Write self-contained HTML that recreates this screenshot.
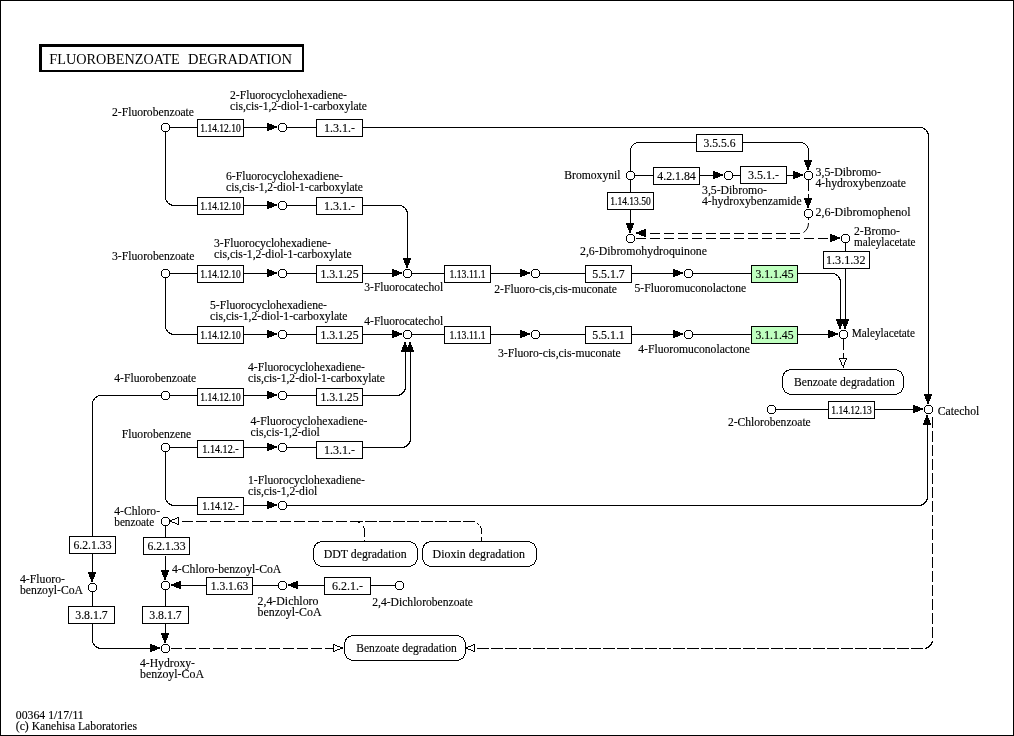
<!DOCTYPE html>
<html lang="en">
<head>
<meta charset="utf-8">
<title>Fluorobenzoate degradation</title>
<style>
html,body{margin:0;padding:0;background:#fff;}
svg{display:block;will-change:transform;}
svg text{font-family:"Liberation Serif",serif;font-size:13px;fill:#000;stroke:#000;stroke-width:0.15px;}
svg line, svg rect, svg path{stroke:#000;stroke-width:1;shape-rendering:crispEdges;}
svg .c{fill:#fff;stroke:#000;stroke-width:1;shape-rendering:crispEdges;}
svg .aa{shape-rendering:auto;}
svg rect.k{fill:#000;stroke:none;}
svg rect.w{fill:#fff;stroke:none;}
</style>
</head>
<body>
<svg width="1014" height="736" viewBox="0 0 1014 736">
<rect x="0.5" y="0.5" width="1013" height="735" fill="#fff"/>
<rect x="39" y="44" width="265" height="28" style="fill:#000;stroke:none"/>
<rect x="42" y="47" width="260" height="23" style="fill:#fff;stroke:none"/>
<text x="49.3" y="64" style="font-size:15px;stroke-width:0" textLength="130.5" lengthAdjust="spacingAndGlyphs">FLUOROBENZOATE</text>
<text x="188" y="64" style="font-size:15px;stroke-width:0" textLength="104" lengthAdjust="spacingAndGlyphs">DEGRADATION</text>
<line x1="170" y1="127.5" x2="197.5" y2="127.5"/>
<line x1="243.5" y1="127.5" x2="268" y2="127.5"/>
<line x1="287" y1="127.5" x2="316.5" y2="127.5"/>
<path d="M362.5 127.5 L921.5 127.5 Q926.75 129.25 928.5 134.5 V395" fill="none"/>
<path d="M165.5 132 L165.5 198.5 Q167.25 203.75 172.5 205.5 H197.5" fill="none"/>
<line x1="243.5" y1="205.5" x2="268" y2="205.5"/>
<line x1="287" y1="205.5" x2="316.5" y2="205.5"/>
<path d="M362.5 205.5 L400.5 205.5 Q405.75 207.25 407.5 212.5 V259" fill="none"/>
<line x1="170" y1="273.5" x2="197.5" y2="273.5"/>
<line x1="243.5" y1="273.5" x2="268" y2="273.5"/>
<line x1="287" y1="273.5" x2="316.5" y2="273.5"/>
<line x1="362.5" y1="273.5" x2="393" y2="273.5"/>
<line x1="412" y1="273.5" x2="444.5" y2="273.5"/>
<line x1="490.5" y1="273.5" x2="521" y2="273.5"/>
<line x1="540" y1="273.5" x2="585.5" y2="273.5"/>
<line x1="631.5" y1="273.5" x2="674" y2="273.5"/>
<line x1="693" y1="273.5" x2="751.5" y2="273.5"/>
<path d="M797.5 273.5 L833.5 273.5 Q838.75 275.25 840.5 280.5 V320" fill="none"/>
<path d="M165.5 278 L165.5 327.5 Q167.25 332.75 172.5 334.5 H197.5" fill="none"/>
<line x1="243.5" y1="334.5" x2="268" y2="334.5"/>
<line x1="287" y1="334.5" x2="316.5" y2="334.5"/>
<line x1="362.5" y1="334.5" x2="393" y2="334.5"/>
<line x1="412" y1="334.5" x2="444.5" y2="334.5"/>
<line x1="490.5" y1="334.5" x2="521" y2="334.5"/>
<line x1="540" y1="334.5" x2="585.5" y2="334.5"/>
<line x1="631.5" y1="334.5" x2="674" y2="334.5"/>
<line x1="693" y1="334.5" x2="751.5" y2="334.5"/>
<line x1="797.5" y1="334.5" x2="829" y2="334.5"/>
<path d="M161 395.5 L99.5 395.5 Q94.25 397.25 92.5 402.5 V536.5" fill="none"/>
<line x1="170" y1="395.5" x2="197.5" y2="395.5"/>
<line x1="243.5" y1="395.5" x2="268" y2="395.5"/>
<line x1="287" y1="395.5" x2="316.5" y2="395.5"/>
<path d="M362.5 395.5 L398.5 395.5 Q403.75 393.75 405.5 388.5 V351" fill="none"/>
<line x1="170" y1="447.5" x2="197.5" y2="447.5"/>
<line x1="243.5" y1="447.5" x2="268" y2="447.5"/>
<line x1="287" y1="447.5" x2="316.5" y2="447.5"/>
<path d="M362.5 447.5 L403.5 447.5 Q408.75 445.75 410.5 440.5 V351" fill="none"/>
<path d="M165.5 452 L165.5 498.5 Q167.25 503.75 172.5 505.5 H197.5" fill="none"/>
<line x1="243.5" y1="505.5" x2="268" y2="505.5"/>
<path d="M287 505.5 L920.5 505.5 Q925.75 503.75 927.5 498.5 V424" fill="none"/>
<line x1="92.5" y1="553.5" x2="92.5" y2="573"/>
<line x1="92.5" y1="592" x2="92.5" y2="606.5"/>
<path d="M92.5 623.5 L92.5 641.5 Q94.25 646.75 99.5 648.5 H151" fill="none"/>
<line x1="165.5" y1="526" x2="165.5" y2="538.5"/>
<line x1="165.5" y1="555.5" x2="165.5" y2="571"/>
<line x1="165.5" y1="590" x2="165.5" y2="606.5"/>
<line x1="165.5" y1="623.5" x2="165.5" y2="634"/>
<line x1="179" y1="585.5" x2="206.5" y2="585.5"/>
<line x1="252.5" y1="585.5" x2="278" y2="585.5"/>
<line x1="296" y1="585.5" x2="324.5" y2="585.5"/>
<line x1="370.5" y1="585.5" x2="395" y2="585.5"/>
<line x1="776" y1="409.5" x2="828.5" y2="409.5"/>
<line x1="874.5" y1="409.5" x2="914" y2="409.5"/>
<path d="M630.5 171 L630.5 149.5 Q631.9 143.9 637.5 142.5 H696.5" fill="none"/>
<path d="M742.5 142.5 L801.5 142.5 Q807.1 143.9 808.5 149.5 V161" fill="none"/>
<line x1="635" y1="175.5" x2="653.5" y2="175.5"/>
<line x1="699.5" y1="175.5" x2="714" y2="175.5"/>
<line x1="733" y1="175.5" x2="740.5" y2="175.5"/>
<line x1="786.5" y1="175.5" x2="794" y2="175.5"/>
<line x1="630.5" y1="180" x2="630.5" y2="192.5"/>
<line x1="630.5" y1="209.5" x2="630.5" y2="224"/>
<line x1="845.5" y1="243" x2="845.5" y2="251.5"/>
<line x1="845.5" y1="268.5" x2="845.5" y2="320"/>
<line x1="808.5" y1="180" x2="808.5" y2="199" stroke-dasharray="10.5,3.5" stroke-dashoffset="0"/>
<line x1="808.5" y1="218" x2="808.5" y2="220"/>
<path d="M808.5 223 Q808.5 229 803.5 232.5" fill="none" class="aa"/>
<line x1="635.7" y1="233.5" x2="801" y2="233.5" stroke-dasharray="10.7,3.3" stroke-dashoffset="0"/>
<line x1="635.7" y1="238.5" x2="831" y2="238.5" stroke-dasharray="10.7,3.3" stroke-dashoffset="0"/>
<line x1="843.5" y1="339" x2="843.5" y2="358.5" stroke-dasharray="11,3" stroke-dashoffset="0"/>
<line x1="932.5" y1="417" x2="932.5" y2="641" stroke-dasharray="10.7,3.3" stroke-dashoffset="0"/>
<path d="M932.5 641 L932.5 641.5 Q930.75 646.75 925.5 648.5" fill="none"/>
<line x1="476.8" y1="648.5" x2="926" y2="648.5" stroke-dasharray="12,2" stroke-dashoffset="0"/>
<line x1="170.8" y1="648.5" x2="334" y2="648.5" stroke-dasharray="11,3" stroke-dashoffset="0"/>
<line x1="182.08" y1="521.5" x2="361" y2="521.5" stroke-dasharray="10.8,3.2" stroke-dashoffset="0"/>
<line x1="359" y1="521.5" x2="362.8" y2="521.5"/>
<line x1="365" y1="521.5" x2="475" y2="521.5" stroke-dasharray="12,2" stroke-dashoffset="0"/>
<rect class="k" x="477" y="523" width="1" height="1"/>
<rect class="k" x="478" y="524" width="1" height="1"/>
<rect class="k" x="480" y="526" width="1" height="2"/>
<rect class="k" x="481" y="528" width="1" height="6"/>
<rect class="k" x="481" y="537" width="1" height="4"/>
<rect class="k" x="358" y="522" width="2" height="1"/>
<line x1="363.5" y1="526" x2="363.5" y2="528"/>
<line x1="364.5" y1="528" x2="364.5" y2="537"/>
<line x1="364.5" y1="540" x2="364.5" y2="541"/>
<rect class="k" x="267" y="123" width="2" height="8"/>
<rect class="k" x="269" y="124" width="3" height="6"/>
<rect class="k" x="272" y="125" width="2" height="4"/>
<rect class="k" x="274" y="126" width="3" height="2"/>
<rect class="k" x="267" y="201" width="2" height="8"/>
<rect class="k" x="269" y="202" width="3" height="6"/>
<rect class="k" x="272" y="203" width="2" height="4"/>
<rect class="k" x="274" y="204" width="3" height="2"/>
<rect class="k" x="267" y="269" width="2" height="8"/>
<rect class="k" x="269" y="270" width="3" height="6"/>
<rect class="k" x="272" y="271" width="2" height="4"/>
<rect class="k" x="274" y="272" width="3" height="2"/>
<rect class="k" x="267" y="330" width="2" height="8"/>
<rect class="k" x="269" y="331" width="3" height="6"/>
<rect class="k" x="272" y="332" width="2" height="4"/>
<rect class="k" x="274" y="333" width="3" height="2"/>
<rect class="k" x="267" y="391" width="2" height="8"/>
<rect class="k" x="269" y="392" width="3" height="6"/>
<rect class="k" x="272" y="393" width="2" height="4"/>
<rect class="k" x="274" y="394" width="3" height="2"/>
<rect class="k" x="267" y="443" width="2" height="8"/>
<rect class="k" x="269" y="444" width="3" height="6"/>
<rect class="k" x="272" y="445" width="2" height="4"/>
<rect class="k" x="274" y="446" width="3" height="2"/>
<rect class="k" x="267" y="501" width="2" height="8"/>
<rect class="k" x="269" y="502" width="3" height="6"/>
<rect class="k" x="272" y="503" width="2" height="4"/>
<rect class="k" x="274" y="504" width="3" height="2"/>
<rect class="k" x="392" y="269" width="2" height="8"/>
<rect class="k" x="394" y="270" width="3" height="6"/>
<rect class="k" x="397" y="271" width="2" height="4"/>
<rect class="k" x="399" y="272" width="3" height="2"/>
<rect class="k" x="520" y="269" width="2" height="8"/>
<rect class="k" x="522" y="270" width="3" height="6"/>
<rect class="k" x="525" y="271" width="2" height="4"/>
<rect class="k" x="527" y="272" width="3" height="2"/>
<rect class="k" x="673" y="269" width="2" height="8"/>
<rect class="k" x="675" y="270" width="3" height="6"/>
<rect class="k" x="678" y="271" width="2" height="4"/>
<rect class="k" x="680" y="272" width="3" height="2"/>
<rect class="k" x="392" y="330" width="2" height="8"/>
<rect class="k" x="394" y="331" width="3" height="6"/>
<rect class="k" x="397" y="332" width="2" height="4"/>
<rect class="k" x="399" y="333" width="3" height="2"/>
<rect class="k" x="520" y="330" width="2" height="8"/>
<rect class="k" x="522" y="331" width="3" height="6"/>
<rect class="k" x="525" y="332" width="2" height="4"/>
<rect class="k" x="527" y="333" width="3" height="2"/>
<rect class="k" x="673" y="330" width="2" height="8"/>
<rect class="k" x="675" y="331" width="3" height="6"/>
<rect class="k" x="678" y="332" width="2" height="4"/>
<rect class="k" x="680" y="333" width="3" height="2"/>
<rect class="k" x="828" y="330" width="2" height="8"/>
<rect class="k" x="830" y="331" width="3" height="6"/>
<rect class="k" x="833" y="332" width="2" height="4"/>
<rect class="k" x="835" y="333" width="3" height="2"/>
<rect class="k" x="913" y="405" width="2" height="8"/>
<rect class="k" x="915" y="406" width="3" height="6"/>
<rect class="k" x="918" y="407" width="2" height="4"/>
<rect class="k" x="920" y="408" width="3" height="2"/>
<rect class="k" x="713" y="171" width="2" height="8"/>
<rect class="k" x="715" y="172" width="3" height="6"/>
<rect class="k" x="718" y="173" width="2" height="4"/>
<rect class="k" x="720" y="174" width="3" height="2"/>
<rect class="k" x="793" y="171" width="2" height="8"/>
<rect class="k" x="795" y="172" width="3" height="6"/>
<rect class="k" x="798" y="173" width="2" height="4"/>
<rect class="k" x="800" y="174" width="3" height="2"/>
<rect class="k" x="830" y="234" width="2" height="8"/>
<rect class="k" x="832" y="235" width="3" height="6"/>
<rect class="k" x="835" y="236" width="2" height="4"/>
<rect class="k" x="837" y="237" width="3" height="2"/>
<rect class="k" x="150" y="644" width="2" height="8"/>
<rect class="k" x="152" y="645" width="3" height="6"/>
<rect class="k" x="155" y="646" width="2" height="4"/>
<rect class="k" x="157" y="647" width="3" height="2"/>
<rect class="k" x="644" y="229" width="2" height="8"/>
<rect class="k" x="641" y="230" width="3" height="6"/>
<rect class="k" x="639" y="231" width="2" height="4"/>
<rect class="k" x="636" y="232" width="3" height="2"/>
<rect class="k" x="179" y="581" width="2" height="8"/>
<rect class="k" x="176" y="582" width="3" height="6"/>
<rect class="k" x="174" y="583" width="2" height="4"/>
<rect class="k" x="171" y="584" width="3" height="2"/>
<rect class="k" x="296" y="581" width="2" height="8"/>
<rect class="k" x="293" y="582" width="3" height="6"/>
<rect class="k" x="291" y="583" width="2" height="4"/>
<rect class="k" x="288" y="584" width="3" height="2"/>
<rect class="k" x="924" y="394" width="8" height="2"/>
<rect class="k" x="925" y="396" width="6" height="3"/>
<rect class="k" x="926" y="399" width="4" height="2"/>
<rect class="k" x="927" y="401" width="2" height="3"/>
<rect class="k" x="403" y="258" width="8" height="2"/>
<rect class="k" x="404" y="260" width="6" height="3"/>
<rect class="k" x="405" y="263" width="4" height="2"/>
<rect class="k" x="406" y="265" width="2" height="3"/>
<rect class="k" x="836" y="319" width="8" height="2"/>
<rect class="k" x="837" y="321" width="6" height="3"/>
<rect class="k" x="838" y="324" width="4" height="2"/>
<rect class="k" x="839" y="326" width="2" height="3"/>
<rect class="k" x="841" y="319" width="8" height="2"/>
<rect class="k" x="842" y="321" width="6" height="3"/>
<rect class="k" x="843" y="324" width="4" height="2"/>
<rect class="k" x="844" y="326" width="2" height="3"/>
<rect class="k" x="804" y="160" width="8" height="2"/>
<rect class="k" x="805" y="162" width="6" height="3"/>
<rect class="k" x="806" y="165" width="4" height="2"/>
<rect class="k" x="807" y="167" width="2" height="3"/>
<rect class="k" x="804" y="198" width="8" height="2"/>
<rect class="k" x="805" y="200" width="6" height="3"/>
<rect class="k" x="806" y="203" width="4" height="2"/>
<rect class="k" x="807" y="205" width="2" height="3"/>
<rect class="k" x="626" y="223" width="8" height="2"/>
<rect class="k" x="627" y="225" width="6" height="3"/>
<rect class="k" x="628" y="228" width="4" height="2"/>
<rect class="k" x="629" y="230" width="2" height="3"/>
<rect class="k" x="88" y="572" width="8" height="2"/>
<rect class="k" x="89" y="574" width="6" height="3"/>
<rect class="k" x="90" y="577" width="4" height="2"/>
<rect class="k" x="91" y="579" width="2" height="3"/>
<rect class="k" x="161" y="570" width="8" height="2"/>
<rect class="k" x="162" y="572" width="6" height="3"/>
<rect class="k" x="163" y="575" width="4" height="2"/>
<rect class="k" x="164" y="577" width="2" height="3"/>
<rect class="k" x="161" y="633" width="8" height="2"/>
<rect class="k" x="162" y="635" width="6" height="3"/>
<rect class="k" x="163" y="638" width="4" height="2"/>
<rect class="k" x="164" y="640" width="2" height="3"/>
<rect class="k" x="401" y="350" width="8" height="2"/>
<rect class="k" x="402" y="347" width="6" height="3"/>
<rect class="k" x="403" y="345" width="4" height="2"/>
<rect class="k" x="404" y="342" width="2" height="3"/>
<rect class="k" x="406" y="350" width="8" height="2"/>
<rect class="k" x="407" y="347" width="6" height="3"/>
<rect class="k" x="408" y="345" width="4" height="2"/>
<rect class="k" x="409" y="342" width="2" height="3"/>
<rect class="k" x="923" y="423" width="8" height="2"/>
<rect class="k" x="924" y="420" width="6" height="3"/>
<rect class="k" x="925" y="418" width="4" height="2"/>
<rect class="k" x="926" y="415" width="2" height="3"/>
<rect class="k" x="839" y="358" width="8" height="2"/>
<rect class="k" x="840" y="360" width="6" height="2"/>
<rect class="k" x="841" y="362" width="4" height="3"/>
<rect class="k" x="842" y="365" width="2" height="1"/>
<rect class="k" x="843" y="366" width="1" height="2"/>
<rect class="w" x="840" y="359" width="6" height="1"/>
<rect class="w" x="841" y="360" width="4" height="2"/>
<rect class="w" x="842" y="362" width="2" height="3"/>
<rect class="k" x="177" y="517" width="2" height="8"/>
<rect class="k" x="175" y="518" width="2" height="6"/>
<rect class="k" x="172" y="519" width="3" height="4"/>
<rect class="k" x="170" y="520" width="2" height="2"/>
<rect class="w" x="177" y="518" width="1" height="6"/>
<rect class="w" x="175" y="519" width="2" height="4"/>
<rect class="w" x="172" y="520" width="3" height="2"/>
<rect class="k" x="473" y="644" width="2" height="8"/>
<rect class="k" x="471" y="645" width="2" height="6"/>
<rect class="k" x="468" y="646" width="3" height="4"/>
<rect class="k" x="466" y="647" width="2" height="2"/>
<rect class="w" x="473" y="645" width="1" height="6"/>
<rect class="w" x="471" y="646" width="2" height="4"/>
<rect class="w" x="468" y="647" width="3" height="2"/>
<rect class="k" x="333" y="644" width="2" height="8"/>
<rect class="k" x="335" y="645" width="2" height="6"/>
<rect class="k" x="337" y="646" width="3" height="4"/>
<rect class="k" x="340" y="647" width="3" height="2"/>
<rect class="w" x="334" y="645" width="1" height="6"/>
<rect class="w" x="335" y="646" width="2" height="4"/>
<rect class="w" x="337" y="647" width="3" height="2"/>
<polygon class="c" points="280.5,123.5 284.5,123.5 286.5,125.5 286.5,129.5 284.5,131.5 280.5,131.5 278.5,129.5 278.5,125.5"/>
<polygon class="c" points="280.5,201.5 284.5,201.5 286.5,203.5 286.5,207.5 284.5,209.5 280.5,209.5 278.5,207.5 278.5,203.5"/>
<polygon class="c" points="280.5,269.5 284.5,269.5 286.5,271.5 286.5,275.5 284.5,277.5 280.5,277.5 278.5,275.5 278.5,271.5"/>
<polygon class="c" points="280.5,330.5 284.5,330.5 286.5,332.5 286.5,336.5 284.5,338.5 280.5,338.5 278.5,336.5 278.5,332.5"/>
<polygon class="c" points="280.5,391.5 284.5,391.5 286.5,393.5 286.5,397.5 284.5,399.5 280.5,399.5 278.5,397.5 278.5,393.5"/>
<polygon class="c" points="280.5,443.5 284.5,443.5 286.5,445.5 286.5,449.5 284.5,451.5 280.5,451.5 278.5,449.5 278.5,445.5"/>
<polygon class="c" points="280.5,501.5 284.5,501.5 286.5,503.5 286.5,507.5 284.5,509.5 280.5,509.5 278.5,507.5 278.5,503.5"/>
<polygon class="c" points="163.5,123.5 167.5,123.5 169.5,125.5 169.5,129.5 167.5,131.5 163.5,131.5 161.5,129.5 161.5,125.5"/>
<polygon class="c" points="163.5,269.5 167.5,269.5 169.5,271.5 169.5,275.5 167.5,277.5 163.5,277.5 161.5,275.5 161.5,271.5"/>
<polygon class="c" points="163.5,391.5 167.5,391.5 169.5,393.5 169.5,397.5 167.5,399.5 163.5,399.5 161.5,397.5 161.5,393.5"/>
<polygon class="c" points="163.5,443.5 167.5,443.5 169.5,445.5 169.5,449.5 167.5,451.5 163.5,451.5 161.5,449.5 161.5,445.5"/>
<polygon class="c" points="405.5,269.5 409.5,269.5 411.5,271.5 411.5,275.5 409.5,277.5 405.5,277.5 403.5,275.5 403.5,271.5"/>
<polygon class="c" points="533.5,269.5 537.5,269.5 539.5,271.5 539.5,275.5 537.5,277.5 533.5,277.5 531.5,275.5 531.5,271.5"/>
<polygon class="c" points="686.5,269.5 690.5,269.5 692.5,271.5 692.5,275.5 690.5,277.5 686.5,277.5 684.5,275.5 684.5,271.5"/>
<polygon class="c" points="405.5,330.5 409.5,330.5 411.5,332.5 411.5,336.5 409.5,338.5 405.5,338.5 403.5,336.5 403.5,332.5"/>
<polygon class="c" points="533.5,330.5 537.5,330.5 539.5,332.5 539.5,336.5 537.5,338.5 533.5,338.5 531.5,336.5 531.5,332.5"/>
<polygon class="c" points="686.5,330.5 690.5,330.5 692.5,332.5 692.5,336.5 690.5,338.5 686.5,338.5 684.5,336.5 684.5,332.5"/>
<polygon class="c" points="841.5,330.5 845.5,330.5 847.5,332.5 847.5,336.5 845.5,338.5 841.5,338.5 839.5,336.5 839.5,332.5"/>
<polygon class="c" points="926.5,405.5 930.5,405.5 932.5,407.5 932.5,411.5 930.5,413.5 926.5,413.5 924.5,411.5 924.5,407.5"/>
<polygon class="c" points="769.5,405.5 773.5,405.5 775.5,407.5 775.5,411.5 773.5,413.5 769.5,413.5 767.5,411.5 767.5,407.5"/>
<polygon class="c" points="628.5,171.5 632.5,171.5 634.5,173.5 634.5,177.5 632.5,179.5 628.5,179.5 626.5,177.5 626.5,173.5"/>
<polygon class="c" points="726.5,171.5 730.5,171.5 732.5,173.5 732.5,177.5 730.5,179.5 726.5,179.5 724.5,177.5 724.5,173.5"/>
<polygon class="c" points="806.5,171.5 810.5,171.5 812.5,173.5 812.5,177.5 810.5,179.5 806.5,179.5 804.5,177.5 804.5,173.5"/>
<polygon class="c" points="806.5,209.5 810.5,209.5 812.5,211.5 812.5,215.5 810.5,217.5 806.5,217.5 804.5,215.5 804.5,211.5"/>
<polygon class="c" points="628.5,234.5 632.5,234.5 634.5,236.5 634.5,240.5 632.5,242.5 628.5,242.5 626.5,240.5 626.5,236.5"/>
<polygon class="c" points="843.5,234.5 847.5,234.5 849.5,236.5 849.5,240.5 847.5,242.5 843.5,242.5 841.5,240.5 841.5,236.5"/>
<polygon class="c" points="163.5,517.5 167.5,517.5 169.5,519.5 169.5,523.5 167.5,525.5 163.5,525.5 161.5,523.5 161.5,519.5"/>
<polygon class="c" points="163.5,581.5 167.5,581.5 169.5,583.5 169.5,587.5 167.5,589.5 163.5,589.5 161.5,587.5 161.5,583.5"/>
<polygon class="c" points="90.5,583.5 94.5,583.5 96.5,585.5 96.5,589.5 94.5,591.5 90.5,591.5 88.5,589.5 88.5,585.5"/>
<polygon class="c" points="163.5,644.5 167.5,644.5 169.5,646.5 169.5,650.5 167.5,652.5 163.5,652.5 161.5,650.5 161.5,646.5"/>
<polygon class="c" points="280.5,581.5 284.5,581.5 286.5,583.5 286.5,587.5 284.5,589.5 280.5,589.5 278.5,587.5 278.5,583.5"/>
<polygon class="c" points="397.5,581.5 401.5,581.5 403.5,583.5 403.5,587.5 401.5,589.5 397.5,589.5 395.5,587.5 395.5,583.5"/>
<rect x="197.5" y="119.5" width="46" height="17" fill="#fff"/>
<text x="220.5" y="131.9" text-anchor="middle" textLength="40.5" lengthAdjust="spacingAndGlyphs" style="stroke-width:0.22px">1.14.12.10</text>
<rect x="197.5" y="197.5" width="46" height="17" fill="#fff"/>
<text x="220.5" y="209.9" text-anchor="middle" textLength="40.5" lengthAdjust="spacingAndGlyphs" style="stroke-width:0.22px">1.14.12.10</text>
<rect x="197.5" y="265.5" width="46" height="17" fill="#fff"/>
<text x="220.5" y="277.9" text-anchor="middle" textLength="40.5" lengthAdjust="spacingAndGlyphs" style="stroke-width:0.22px">1.14.12.10</text>
<rect x="197.5" y="326.5" width="46" height="17" fill="#fff"/>
<text x="220.5" y="338.9" text-anchor="middle" textLength="40.5" lengthAdjust="spacingAndGlyphs" style="stroke-width:0.22px">1.14.12.10</text>
<rect x="197.5" y="388.5" width="46" height="17" fill="#fff"/>
<text x="220.5" y="400.9" text-anchor="middle" textLength="40.5" lengthAdjust="spacingAndGlyphs" style="stroke-width:0.22px">1.14.12.10</text>
<rect x="197.5" y="440.5" width="46" height="17" fill="#fff"/>
<text x="220.5" y="452.9" text-anchor="middle" textLength="36.5" lengthAdjust="spacingAndGlyphs" style="stroke-width:0.22px">1.14.12.-</text>
<rect x="197.5" y="497.5" width="46" height="17" fill="#fff"/>
<text x="220.5" y="509.9" text-anchor="middle" textLength="36.5" lengthAdjust="spacingAndGlyphs" style="stroke-width:0.22px">1.14.12.-</text>
<rect x="316.5" y="119.5" width="46" height="17" fill="#fff"/>
<text x="339.5" y="131.9" text-anchor="middle" textLength="31" lengthAdjust="spacingAndGlyphs">1.3.1.-</text>
<rect x="316.5" y="197.5" width="46" height="17" fill="#fff"/>
<text x="339.5" y="209.9" text-anchor="middle" textLength="31" lengthAdjust="spacingAndGlyphs">1.3.1.-</text>
<rect x="316.5" y="441.5" width="46" height="17" fill="#fff"/>
<text x="339.5" y="453.9" text-anchor="middle" textLength="31" lengthAdjust="spacingAndGlyphs">1.3.1.-</text>
<rect x="316.5" y="265.5" width="46" height="17" fill="#fff"/>
<text x="339.5" y="277.9" text-anchor="middle" textLength="38.25" lengthAdjust="spacingAndGlyphs">1.3.1.25</text>
<rect x="316.5" y="326.5" width="46" height="17" fill="#fff"/>
<text x="339.5" y="338.9" text-anchor="middle" textLength="38.25" lengthAdjust="spacingAndGlyphs">1.3.1.25</text>
<rect x="316.5" y="388.5" width="46" height="17" fill="#fff"/>
<text x="339.5" y="400.9" text-anchor="middle" textLength="38.25" lengthAdjust="spacingAndGlyphs">1.3.1.25</text>
<rect x="444.5" y="265.5" width="46" height="17" fill="#fff"/>
<text x="467.5" y="277.9" text-anchor="middle" textLength="36" lengthAdjust="spacingAndGlyphs" style="stroke-width:0.22px">1.13.11.1</text>
<rect x="444.5" y="326.5" width="46" height="17" fill="#fff"/>
<text x="467.5" y="338.9" text-anchor="middle" textLength="36" lengthAdjust="spacingAndGlyphs" style="stroke-width:0.22px">1.13.11.1</text>
<rect x="585.5" y="265.5" width="46" height="17" fill="#fff"/>
<text x="608.5" y="277.9" text-anchor="middle" textLength="32.5" lengthAdjust="spacingAndGlyphs">5.5.1.7</text>
<rect x="585.5" y="326.5" width="46" height="17" fill="#fff"/>
<text x="608.5" y="338.9" text-anchor="middle" textLength="32.5" lengthAdjust="spacingAndGlyphs">5.5.1.1</text>
<rect x="751.5" y="265.5" width="46" height="17" fill="#bfffbf"/>
<text x="774.5" y="277.9" text-anchor="middle" textLength="38" lengthAdjust="spacingAndGlyphs">3.1.1.45</text>
<rect x="751.5" y="326.5" width="46" height="17" fill="#bfffbf"/>
<text x="774.5" y="338.9" text-anchor="middle" textLength="38" lengthAdjust="spacingAndGlyphs">3.1.1.45</text>
<rect x="696.5" y="134.5" width="46" height="17" fill="#fff"/>
<text x="719.5" y="146.9" text-anchor="middle" textLength="32" lengthAdjust="spacingAndGlyphs">3.5.5.6</text>
<rect x="653.5" y="167.5" width="46" height="17" fill="#fff"/>
<text x="676.5" y="179.9" text-anchor="middle" textLength="38.5" lengthAdjust="spacingAndGlyphs">4.2.1.84</text>
<rect x="740.5" y="166.5" width="46" height="17" fill="#fff"/>
<text x="763.5" y="178.9" text-anchor="middle" textLength="31" lengthAdjust="spacingAndGlyphs">3.5.1.-</text>
<rect x="607.5" y="192.5" width="46" height="17" fill="#fff"/>
<text x="630.5" y="204.9" text-anchor="middle" textLength="40.5" lengthAdjust="spacingAndGlyphs" style="stroke-width:0.22px">1.14.13.50</text>
<rect x="823.5" y="251.5" width="46" height="17" fill="#fff"/>
<text x="845.75" y="263.9" text-anchor="middle" textLength="39.5" lengthAdjust="spacingAndGlyphs">1.3.1.32</text>
<rect x="828.5" y="401.5" width="46" height="17" fill="#fff"/>
<text x="851.5" y="413.9" text-anchor="middle" textLength="40.5" lengthAdjust="spacingAndGlyphs" style="stroke-width:0.22px">1.14.12.13</text>
<rect x="69.5" y="536.5" width="46" height="17" fill="#fff"/>
<text x="92.5" y="548.9" text-anchor="middle" textLength="38" lengthAdjust="spacingAndGlyphs">6.2.1.33</text>
<rect x="143.5" y="537.5" width="46" height="17" fill="#fff"/>
<text x="166.5" y="549.9" text-anchor="middle" textLength="38" lengthAdjust="spacingAndGlyphs">6.2.1.33</text>
<rect x="68.5" y="606.5" width="46" height="17" fill="#fff"/>
<text x="91.5" y="618.9" text-anchor="middle" textLength="32.5" lengthAdjust="spacingAndGlyphs">3.8.1.7</text>
<rect x="142.5" y="606.5" width="46" height="17" fill="#fff"/>
<text x="165.5" y="618.9" text-anchor="middle" textLength="32.5" lengthAdjust="spacingAndGlyphs">3.8.1.7</text>
<rect x="206.5" y="577.5" width="46" height="17" fill="#fff"/>
<text x="229.5" y="589.9" text-anchor="middle" textLength="37.5" lengthAdjust="spacingAndGlyphs">1.3.1.63</text>
<rect x="324.5" y="577.5" width="46" height="17" fill="#fff"/>
<text x="347.5" y="589.9" text-anchor="middle" textLength="31" lengthAdjust="spacingAndGlyphs">6.2.1.-</text>
<path d="M790.5 369.5 L895.5 369.5 Q902.3 370.7 903.5 377.5 L903.5 386.5 Q902.3 393.3 895.5 394.5 L790.5 394.5 Q783.7 393.3 782.5 386.5 L782.5 377.5 Q783.7 370.7 790.5 369.5 Z" fill="#fff"/>
<text x="794" y="385.5" textLength="100.75" lengthAdjust="spacingAndGlyphs">Benzoate degradation</text>
<path d="M321.5 541.5 L409.5 541.5 Q416.3 542.7 417.5 549.5 L417.5 558.5 Q416.3 565.3 409.5 566.5 L321.5 566.5 Q314.7 565.3 313.5 558.5 L313.5 549.5 Q314.7 542.7 321.5 541.5 Z" fill="#fff"/>
<text x="323.7" y="557.75" textLength="83" lengthAdjust="spacingAndGlyphs">DDT degradation</text>
<path d="M430.5 541.5 L528.5 541.5 Q535.3 542.7 536.5 549.5 L536.5 558.5 Q535.3 565.3 528.5 566.5 L430.5 566.5 Q423.7 565.3 422.5 558.5 L422.5 549.5 Q423.7 542.7 430.5 541.5 Z" fill="#fff"/>
<text x="432.6" y="557.75" textLength="92.4" lengthAdjust="spacingAndGlyphs">Dioxin degradation</text>
<path d="M352.5 635.5 L457.5 635.5 Q464.3 636.7 465.5 643.5 L465.5 652.5 Q464.3 659.3 457.5 660.5 L352.5 660.5 Q345.7 659.3 344.5 652.5 L344.5 643.5 Q345.7 636.7 352.5 635.5 Z" fill="#fff"/>
<text x="356.25" y="651.5" textLength="100.5" lengthAdjust="spacingAndGlyphs">Benzoate degradation</text>
<text x="112" y="116.0" textLength="82" lengthAdjust="spacingAndGlyphs">2-Fluorobenzoate</text>
<text x="230" y="99.0" textLength="117" lengthAdjust="spacingAndGlyphs">2-Fluorocyclohexadiene-</text>
<text x="230" y="110.0" textLength="137" lengthAdjust="spacingAndGlyphs">cis,cis-1,2-diol-1-carboxylate</text>
<text x="226" y="179.5" textLength="117" lengthAdjust="spacingAndGlyphs">6-Fluorocyclohexadiene-</text>
<text x="226" y="191.0" textLength="137" lengthAdjust="spacingAndGlyphs">cis,cis-1,2-diol-1-carboxylate</text>
<text x="112" y="259.75" textLength="82.5" lengthAdjust="spacingAndGlyphs">3-Fluorobenzoate</text>
<text x="214" y="247.0" textLength="117" lengthAdjust="spacingAndGlyphs">3-Fluorocyclohexadiene-</text>
<text x="214" y="258.0" textLength="137.75" lengthAdjust="spacingAndGlyphs">cis,cis-1,2-diol-1-carboxylate</text>
<text x="210" y="308.5" textLength="117" lengthAdjust="spacingAndGlyphs">5-Fluorocyclohexadiene-</text>
<text x="210" y="319.75" textLength="137.5" lengthAdjust="spacingAndGlyphs">cis,cis-1,2-diol-1-carboxylate</text>
<text x="114.25" y="381.75" textLength="82" lengthAdjust="spacingAndGlyphs">4-Fluorobenzoate</text>
<text x="248" y="370.5" textLength="117" lengthAdjust="spacingAndGlyphs">4-Fluorocyclohexadiene-</text>
<text x="248" y="381.75" textLength="137" lengthAdjust="spacingAndGlyphs">cis,cis-1,2-diol-1-carboxylate</text>
<text x="121.8" y="438.0" textLength="69.4" lengthAdjust="spacingAndGlyphs">Fluorobenzene</text>
<text x="250.5" y="425.0" textLength="117" lengthAdjust="spacingAndGlyphs">4-Fluorocyclohexadiene-</text>
<text x="250.5" y="436.25" textLength="69.25" lengthAdjust="spacingAndGlyphs">cis,cis-1,2-diol</text>
<text x="248" y="484.0" textLength="117" lengthAdjust="spacingAndGlyphs">1-Fluorocyclohexadiene-</text>
<text x="248" y="495.1" textLength="69.25" lengthAdjust="spacingAndGlyphs">cis,cis-1,2-diol</text>
<text x="114.25" y="515.0" textLength="45.75" lengthAdjust="spacingAndGlyphs">4-Chloro-</text>
<text x="114.25" y="525.5" textLength="40" lengthAdjust="spacingAndGlyphs">benzoate</text>
<text x="20" y="582.5" textLength="45" lengthAdjust="spacingAndGlyphs">4-Fluoro-</text>
<text x="20" y="593.75" textLength="63" lengthAdjust="spacingAndGlyphs">benzoyl-CoA</text>
<text x="172" y="573.0" textLength="109.25" lengthAdjust="spacingAndGlyphs">4-Chloro-benzoyl-CoA</text>
<text x="257.5" y="605.0" textLength="61" lengthAdjust="spacingAndGlyphs">2,4-Dichloro</text>
<text x="257.5" y="615.5" textLength="64" lengthAdjust="spacingAndGlyphs">benzoyl-CoA</text>
<text x="372.25" y="606.0" textLength="100.75" lengthAdjust="spacingAndGlyphs">2,4-Dichlorobenzoate</text>
<text x="140" y="667.0" textLength="55" lengthAdjust="spacingAndGlyphs">4-Hydroxy-</text>
<text x="140" y="677.5" textLength="64" lengthAdjust="spacingAndGlyphs">benzoyl-CoA</text>
<text x="15.75" y="719.0" textLength="68" lengthAdjust="spacingAndGlyphs">00364 1/17/11</text>
<text x="15.75" y="730.0" textLength="121.25" lengthAdjust="spacingAndGlyphs">(c) Kanehisa Laboratories</text>
<text x="364.25" y="291.25" textLength="79" lengthAdjust="spacingAndGlyphs">3-Fluorocatechol</text>
<text x="364.25" y="325.0" textLength="79" lengthAdjust="spacingAndGlyphs">4-Fluorocatechol</text>
<text x="494.25" y="292.5" textLength="122.75" lengthAdjust="spacingAndGlyphs">2-Fluoro-cis,cis-muconate</text>
<text x="498" y="356.75" textLength="122.75" lengthAdjust="spacingAndGlyphs">3-Fluoro-cis,cis-muconate</text>
<text x="634.5" y="291.75" textLength="111.75" lengthAdjust="spacingAndGlyphs">5-Fluoromuconolactone</text>
<text x="638.25" y="353.0" textLength="111.75" lengthAdjust="spacingAndGlyphs">4-Fluoromuconolactone</text>
<text x="580" y="254.9" textLength="127" lengthAdjust="spacingAndGlyphs">2,6-Dibromohydroquinone</text>
<text x="564.25" y="179.1" textLength="56.25" lengthAdjust="spacingAndGlyphs">Bromoxynil</text>
<text x="702" y="194.25" textLength="65" lengthAdjust="spacingAndGlyphs">3,5-Dibromo-</text>
<text x="702" y="205.25" textLength="99.6" lengthAdjust="spacingAndGlyphs">4-hydroxybenzamide</text>
<text x="815.5" y="176.0" textLength="65.5" lengthAdjust="spacingAndGlyphs">3,5-Dibromo-</text>
<text x="815.5" y="186.75" textLength="90.5" lengthAdjust="spacingAndGlyphs">4-hydroxybenzoate</text>
<text x="815.5" y="216.0" textLength="95" lengthAdjust="spacingAndGlyphs">2,6-Dibromophenol</text>
<text x="854" y="235.0" textLength="46" lengthAdjust="spacingAndGlyphs">2-Bromo-</text>
<text x="854" y="245.5" textLength="61.5" lengthAdjust="spacingAndGlyphs">maleylacetate</text>
<text x="851.75" y="336.5" textLength="63.25" lengthAdjust="spacingAndGlyphs">Maleylacetate</text>
<text x="937.75" y="414.5" textLength="41.5" lengthAdjust="spacingAndGlyphs">Catechol</text>
<text x="728" y="425.5" textLength="82.75" lengthAdjust="spacingAndGlyphs">2-Chlorobenzoate</text>
</svg>
</body>
</html>
